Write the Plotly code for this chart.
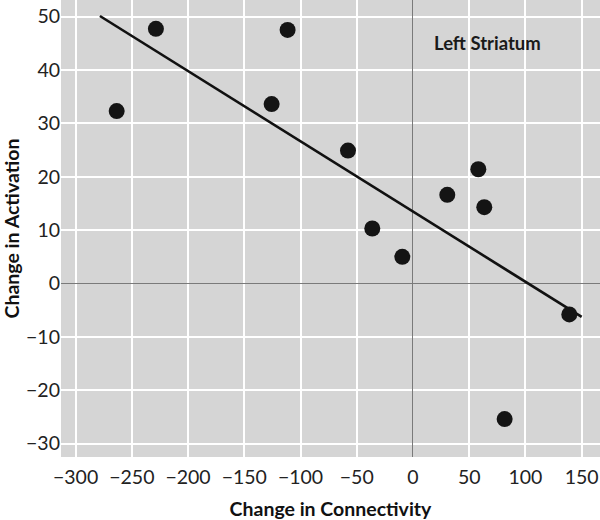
import plotly.graph_objects as go

# Data
conn_x = [-263.5, -228.6, -125.7, -111.5, -57.8, -36.2, -9.5, 30.5, 58.1, 63.4, 81.5, 139.0]
act_y = [32.3, 47.7, 33.6, 47.5, 24.9, 10.3, 5.0, 16.6, 21.4, 14.3, -25.4, -5.8]
fit_x = [-278.4, 150.0]
fit_y = [50.1, -6.25]
x_ticks = [-300, -250, -200, -150, -100, -50, 0, 50, 100, 150]
y_ticks = [-30, -20, -10, 0, 10, 20, 30, 40, 50]
panel_label = "Left Striatum"

font_fam = "Lato, 'Open Sans', sans-serif"

fig = go.Figure()
fig.add_trace(go.Scatter(x=fit_x, y=fit_y, mode="lines",
                         line=dict(color="#111111", width=2.6), showlegend=False,
                         hoverinfo="skip"))
fig.add_trace(go.Scatter(x=conn_x, y=act_y, mode="markers",
                         marker=dict(color="#141414", size=16, line=dict(width=0)),
                         showlegend=False))

fig.add_annotation(x=66, y=45.1, xref="x", yref="y", text=panel_label,
                   showarrow=False, xanchor="center", yanchor="middle",
                   font=dict(family=font_fam, size=18.5, color="#1a1a1a", weight="bold"))

fig.update_layout(
    width=600, height=520,
    margin=dict(l=61, r=0, t=0, b=63),
    paper_bgcolor="white", plot_bgcolor="#d5d5d5",
    font=dict(family=font_fam, color="#222222"),
    xaxis=dict(range=[-313, 166.3], tickvals=x_ticks, showgrid=True, automargin=False,
               gridcolor="white", gridwidth=1.5, zeroline=True,
               zerolinecolor="#7a7a7a", zerolinewidth=1.2,
               tickfont=dict(size=19.5, color="#222222"), ticks="",
               ticklabelstandoff=6,
               title=dict(text="Change in Connectivity", standoff=15,
                          font=dict(size=19.5, color="#111111", weight="bold"))),
    yaxis=dict(range=[-32.5, 53.1], tickvals=y_ticks, showgrid=True, automargin=False,
               gridcolor="white", gridwidth=1.5, zeroline=True,
               zerolinecolor="#7a7a7a", zerolinewidth=1.2,
               tickfont=dict(size=19.5, color="#222222"), ticks="",
               title=dict(text="Change in Activation", standoff=3,
                          font=dict(size=19.5, color="#111111", weight="bold"))),
)

fig.write_html("out.html", config={"displayModeBar": False},
               post_script="document.body.style.margin='0';document.body.style.overflow='hidden';")
